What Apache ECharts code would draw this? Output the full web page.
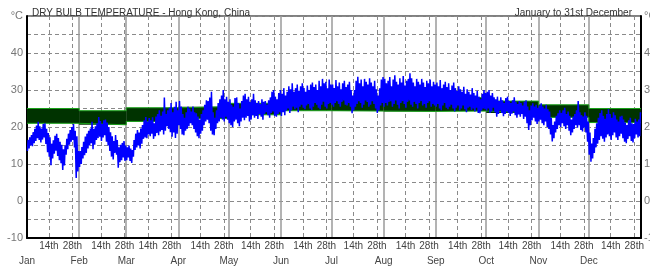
<!DOCTYPE html>
<html>
<head>
<meta charset="utf-8">
<script src="https://cdn.jsdelivr.net/npm/echarts@6/dist/echarts.min.js"></script>
<style>
  html, body { margin: 0; padding: 0; background: #fff; }
  #chart { width: 650px; height: 272px; }
</style>
</head>
<body>
<div id="chart"></div>
<script>
const monthNames = ['Jan', 'Feb', 'Mar', 'Apr', 'May', 'Jun', 'Jul', 'Aug', 'Sep', 'Oct', 'Nov', 'Dec'];
const monthStarts = [0, 31, 59, 90, 120, 151, 181, 212, 243, 273, 304, 334];
const markDays = [14, 28];
const markLabels = ['14th', '28th'];

// comfort band, per month (deg C)
const bandLow = [21.0, 20.6, 21.5, 22.3, 23.3, 24.4, 24.3, 24.2, 24.3, 23.8, 22.6, 21.2];
const bandHigh = [25.0, 24.4, 25.2, 25.5, 26.4, 27.8, 28.2, 28.2, 27.9, 27.0, 26.0, 25.0];

// daily lows / highs of the hourly dry bulb trace
const dailyLow = [
  13.5,14.2,15.0,14.8,15.6,16.2,17.0,16.5,15.8,16.6,17.2,15.4,13.2,12.0,9.7,11.5,12.8,13.6,12.2,11.0,10.2,8.4,9.6,12.5,14.0,15.2,16.0,16.5,14.5,6.2,8.0, // jan
  9.2,10.0,11.5,12.4,13.0,14.2,15.0,15.6,14.0,15.2,16.5,17.0,17.4,16.2,17.2,17.8,16.0,15.0,13.5,12.0,11.2,13.0,12.5,9.0,10.5,11.0,11.8,10.8, // feb
  11.0,11.8,10.8,10.3,12.0,13.8,14.5,15.0,14.2,15.5,16.8,17.2,17.0,18.0,17.5,18.2,16.8,17.5,18.4,17.8,18.8,19.2,18.0,19.0,20.2,19.5,18.6,17.4,18.5,17.0,18.2, // mar
  20.5,19.5,18.0,17.8,19.0,19.5,20.2,21.0,20.5,19.5,18.5,17.5,17.0,18.2,19.0,20.5,21.5,22.0,21.0,19.0,18.0,17.8,19.5,21.0,21.5,22.5,22.0,21.5,22.8,22.0, // apr
  21.0,20.5,20.0,21.5,22.0,21.0,20.2,21.5,22.5,21.8,22.5,23.0,21.5,22.0,23.2,22.5,23.0,22.2,23.5,22.8,22.0,23.5,24.0,23.2,22.5,23.8,24.2,23.0,22.8,23.5,24.0, // may
  23.0,24.0,23.2,24.5,25.0,23.8,24.5,25.5,24.8,25.2,24.0,25.5,26.0,25.2,24.8,25.8,26.2,25.0,24.6,25.5,26.5,26.0,25.2,24.8,26.0,26.8,25.5,25.0,26.2,26.5, // jun
  26.0,25.5,26.5,27.0,26.2,25.5,26.8,27.2,26.0,25.8,26.5,25.5,23.7,24.5,25.5,26.2,27.0,26.5,25.2,26.0,27.2,26.8,25.5,26.0,27.0,26.2,25.0,23.8,24.5,25.8,26.5, // jul
  25.5,26.5,25.8,26.8,27.0,25.5,26.2,27.2,26.0,25.0,26.5,27.0,26.2,25.2,26.8,27.2,26.0,25.5,26.8,26.2,25.0,26.5,27.0,25.8,26.2,25.2,26.5,27.0,25.5,26.2,25.8, // aug
  25.5,26.2,25.0,24.5,25.8,26.5,25.2,24.8,25.5,26.0,25.0,24.2,25.2,25.8,24.5,25.0,25.8,24.8,24.0,25.2,25.5,24.6,25.0,24.2,25.2,23.8,23.7,24.5,25.0,24.8, // sep
  24.5,25.0,23.8,24.2,25.2,24.0,22.8,23.5,24.5,23.8,22.9,23.5,24.2,23.8,23.0,23.6,24.2,23.2,22.5,23.4,22.8,23.5,22.2,22.8,21.0,19.2,20.5,21.8,22.5,21.5,20.8, // oct
  21.5,22.0,21.0,20.5,21.5,20.0,19.5,18.0,16.1,17.0,18.5,19.5,20.5,20.0,21.0,20.2,19.5,20.5,19.0,17.8,18.5,19.5,20.5,19.8,20.5,19.2,18.8,19.8,18.5,16.0, // nov
  12.5,10.6,11.5,13.0,14.5,15.5,16.5,17.5,16.8,16.0,17.2,18.0,17.5,16.5,17.8,18.5,17.2,16.5,17.5,18.2,17.0,16.0,15.6,16.8,17.5,16.2,15.8,17.0,18.0,17.2,17.5  // dec
];
const dailyHigh = [
  16.5,17.2,17.8,18.6,19.5,20.4,21.4,20.2,19.6,20.8,21.0,19.5,18.4,17.2,15.5,16.4,17.6,18.2,17.0,16.0,15.2,14.0,15.0,16.8,18.2,19.2,20.0,20.8,19.0,17.5,13.5, // jan
  13.5,14.6,16.0,17.4,18.2,19.0,19.6,21.4,19.5,20.2,21.0,22.7,21.6,20.8,21.8,22.0,21.2,20.0,18.6,17.5,16.2,17.8,16.5,14.5,15.2,15.7,16.2,15.0, // feb
  14.5,15.0,14.2,13.8,16.5,18.2,19.2,18.5,19.6,20.5,21.8,22.7,21.5,22.4,21.8,22.6,21.0,22.8,23.5,24.5,23.0,24.2,28.0,23.5,24.5,25.2,26.5,24.0,25.5,26.8,24.5, // mar
  27.0,25.5,23.5,22.5,24.0,25.5,25.0,24.2,25.5,24.0,23.7,22.8,22.0,23.5,24.5,26.0,27.2,27.0,28.0,29.5,24.0,22.5,24.5,26.5,27.5,28.5,30.0,27.5,28.2,26.8, // apr
  27.5,26.0,25.5,27.8,28.0,26.5,25.0,27.0,28.5,29.0,27.5,28.2,26.8,27.5,29.0,27.2,26.5,27.0,26.2,27.5,26.8,27.0,26.0,27.2,28.0,29.5,30.0,28.2,27.5,29.2,30.0, // may
  29.0,30.5,28.5,29.5,31.0,30.2,31.8,29.5,30.5,31.5,29.8,31.0,31.8,30.5,29.5,31.2,30.0,31.5,32.0,30.8,31.5,30.0,32.5,31.0,33.0,31.8,32.2,30.5,32.8,31.5, // jun
  31.5,30.5,32.7,31.0,32.0,30.2,31.8,32.5,30.8,31.5,32.2,30.0,28.5,30.0,32.5,33.6,31.8,32.8,31.0,33.0,32.2,31.5,33.2,32.0,31.0,32.5,30.2,28.5,30.5,32.8,33.5, // jul
  33.0,31.8,32.5,33.5,31.0,32.8,34.0,32.2,31.5,33.2,32.0,33.8,31.2,32.5,33.0,34.5,33.2,32.0,31.0,33.0,32.2,31.5,33.0,32.0,30.8,32.5,31.8,32.8,31.0,32.2,31.5, // aug
  32.0,31.0,32.7,30.5,31.5,32.2,30.8,31.8,30.0,31.2,32.0,30.5,29.8,31.0,30.2,29.5,30.9,29.0,30.2,29.5,28.8,30.5,29.2,28.5,29.8,28.2,27.5,29.0,30.0,29.2, // sep
  29.5,30.0,28.5,29.2,28.0,27.5,28.2,27.0,28.0,27.2,26.5,27.8,28.2,27.0,26.5,27.2,28.0,26.8,26.2,27.0,26.5,25.8,26.8,27.2,25.5,24.5,25.8,26.4,25.5,26.0,25.2, // oct
  25.8,26.4,25.5,25.0,26.0,24.8,24.2,22.5,20.5,21.5,23.0,23.7,24.5,23.8,24.5,25.2,23.5,24.2,23.0,22.0,22.8,23.5,24.5,27.0,24.0,23.2,22.8,24.0,23.0,21.5, // nov
  18.5,15.5,17.0,19.5,21.0,22.5,23.8,24.5,23.0,22.2,23.5,24.8,23.5,22.5,24.0,23.2,22.0,21.5,22.8,23.0,22.0,21.2,20.5,21.8,22.5,21.0,20.8,22.2,21.5,22.0,24.0  // dec
];

const FONT = "'Liberation Sans', Arial, sans-serif";

// tick label arrays for the day / month category axes (366 day boundaries)
var dayLabels = new Array(366).fill('');
var monthLabels = new Array(366).fill('');
monthStarts.forEach(function (ms, i) {
  monthLabels[ms] = monthNames[i];
  markDays.forEach(function (d, k) { dayLabels[ms + d - 1] = markLabels[k]; });
});

var tempPts = [];
dailyLow.forEach(function (lo, d) {
  tempPts.push([d + 0.25, lo]);
  tempPts.push([d + 0.65, dailyHigh[d]]);
});

// band: one rect per month, plus stepped edge lines
var monthEnds = monthStarts.slice(1).concat([365]);
var bandRects = monthStarts.map(function (ms, i) { return [ms, monthEnds[i], bandLow[i], bandHigh[i]]; });
var bandX = monthStarts.concat([365]);
var lowerEdge = bandX.map(function (x, i) { return [x, bandLow[Math.min(i, 11)]]; });
var upperEdge = bandX.map(function (x, i) { return [x, bandHigh[Math.min(i, 11)]]; });

var yLabel = function (v) { return v % 10 === 0 ? (v === 50 ? '°C' : v) : ''; };

var chart = echarts.init(document.getElementById('chart'));
chart.setOption({
  animation: false,
  backgroundColor: '#fff',
  textStyle: { fontFamily: FONT },
  title: [
    {
      text: 'DRY BULB TEMPERATURE - Hong Kong, China',
      left: 27, top: 3,
      textStyle: { fontFamily: FONT, fontSize: 10, fontWeight: 'normal', color: '#333' }
    },
    {
      text: 'January to 31st December',
      right: 13, top: 3,
      textStyle: { fontFamily: FONT, fontSize: 10, fontWeight: 'normal', color: '#333' }
    }
  ],
  grid: {
    left: 27, right: 9, top: 16, bottom: 34,
    outerBoundsMode: 'none',
    show: true, borderColor: '#000', borderWidth: 1, backgroundColor: '#fff'
  },
  xAxis: [
    {
      type: 'value', min: 0, max: 365,
      axisLine: { show: true, onZero: false, lineStyle: { color: '#000', width: 2 } },
      axisTick: { show: false }, axisLabel: { show: false }, splitLine: { show: false }
    },
    {
      type: 'category', data: dayLabels, boundaryGap: false, position: 'bottom',
      axisLine: { show: false, onZero: false }, axisTick: { show: false },
      axisLabel: {
        interval: function (i, v) { return v !== ''; },
        margin: 3, fontSize: 10, color: '#444', fontFamily: FONT
      },
      splitLine: {
        show: true,
        interval: function (i, v) { return v !== ''; },
        lineStyle: { color: '#8a8a8a', type: [4, 3], width: 1 }
      }
    },
    {
      type: 'category', data: monthLabels, boundaryGap: false, position: 'bottom',
      axisLine: { show: false, onZero: false }, axisTick: { show: false },
      axisLabel: {
        interval: function (i, v) { return v !== ''; },
        margin: 18, fontSize: 10, color: '#444', fontFamily: FONT
      },
      splitLine: {
        show: true,
        interval: function (i, v) { return v !== ''; },
        lineStyle: { color: '#9a9a9a', width: 1.5 }
      }
    }
  ],
  yAxis: [
    {
      type: 'value', min: -10, max: 50, interval: 5, position: 'left',
      axisLine: { show: true, onZero: false, lineStyle: { color: '#000', width: 2 } },
      axisTick: { show: false },
      axisLabel: { formatter: yLabel, margin: 4, fontSize: 11, color: '#777', fontFamily: FONT },
      splitLine: { show: true, lineStyle: { color: '#8a8a8a', type: [4, 3], width: 1 } }
    },
    {
      type: 'value', min: -10, max: 50, interval: 5, position: 'right',
      axisLine: { show: true, onZero: false, lineStyle: { color: '#000', width: 2 } },
      axisTick: { show: false },
      axisLabel: { formatter: yLabel, margin: 3, fontSize: 11, color: '#777', fontFamily: FONT },
      splitLine: { show: false }
    }
  ],
  series: [
    {
      name: 'band', type: 'custom', xAxisIndex: 0, yAxisIndex: 0,
      encode: { x: [0, 1], y: [2, 3] },
      data: bandRects,
      renderItem: function (params, api) {
        var p1 = api.coord([api.value(0), api.value(3)]);
        var p2 = api.coord([api.value(1), api.value(2)]);
        return {
          type: 'rect',
          shape: { x: p1[0], y: p1[1], width: p2[0] - p1[0], height: p2[1] - p1[1] },
          style: { fill: '#003300' }
        };
      }
    },
    {
      name: 'band low', type: 'line', xAxisIndex: 0, yAxisIndex: 0,
      step: 'end', symbol: 'none',
      lineStyle: { color: '#19a019', width: 1 },
      data: lowerEdge
    },
    {
      name: 'band high', type: 'line', xAxisIndex: 0, yAxisIndex: 0,
      step: 'end', symbol: 'none',
      lineStyle: { color: '#19a019', width: 1 },
      data: upperEdge
    },
    {
      name: 'Dry bulb', type: 'line', xAxisIndex: 0, yAxisIndex: 0,
      symbol: 'none',
      lineStyle: { color: '#0000ff', width: 1.5 },
      data: tempPts
    }
  ]
});
</script>
</body>
</html>
